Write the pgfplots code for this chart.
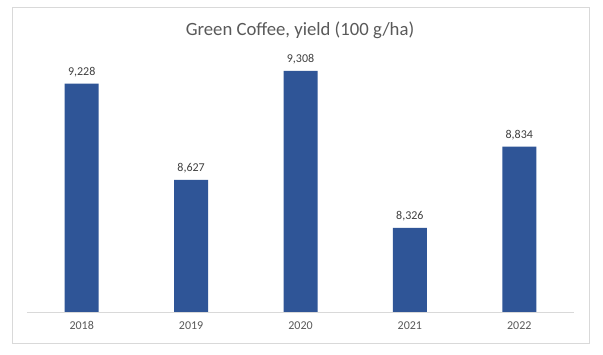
\documentclass[border=0pt]{standalone}
\usepackage{pgfplots}
\pgfplotsset{compat=1.18}
\usepackage{fontspec}
\setmainfont{Carlito}
\definecolor{barblue}{HTML}{2F5597}
\definecolor{txtgray}{HTML}{595959}
\definecolor{lblgray}{HTML}{404040}
\definecolor{linegray}{HTML}{D9D9D9}
\begin{document}
\begin{tikzpicture}[x=1pt,y=1pt]
\path[fill=white] (0,0) rectangle (603,-355);
\draw[linegray,line width=0.8pt] (12,-7) rectangle (589,-343);
\node[txtgray,font=\fontsize{18.7}{22}\selectfont] at (300,-30) {Green Coffee, yield (100 g/ha)};
\begin{axis}[
  at={(27pt,-312pt)}, anchor=south west,
  scale only axis, width=547pt, height=255.8pt,
  xmin=-0.5, xmax=4.5, ymin=7800, ymax=9400,
  axis y line=none,
  axis x line*=bottom,
  x axis line style={linegray, line width=0.8pt, -},
  xtick={0,1,2,3,4},
  xticklabels={2018,2019,2020,2021,2022},
  major tick length=0pt,
  xticklabel style={txtgray, font=\fontsize{12}{14}\selectfont, yshift=-6pt},
  /pgf/number format/.cd, 1000 sep={,}, assume math mode=true,
  /pgfplots/.cd,
  ybar, bar width=34pt,
  nodes near coords,
  every node near coord/.append style={lblgray, font=\fontsize{12}{14}\selectfont, yshift=3pt},
  clip=false,
]
\addplot[fill=barblue, draw=none] coordinates {(0,9228) (1,8627) (2,9308) (3,8326) (4,8834)};
\end{axis}
\end{tikzpicture}
\end{document}
